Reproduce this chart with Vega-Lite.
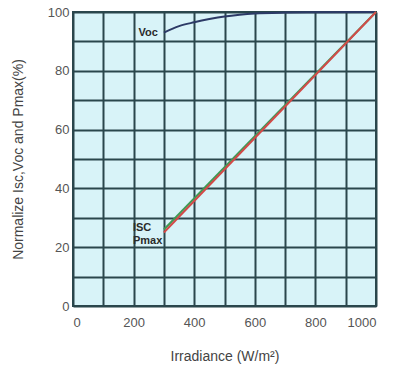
{
  "$schema": "https://vega.github.io/schema/vega-lite/v6.json",
  "width": 303,
  "height": 294,
  "autosize": {"type": "none"},
  "padding": {"left": 73, "top": 12, "right": 27, "bottom": 64},
  "background": "white",
  "config": {
    "view": {"fill": "#d8f3f8", "stroke": "#2a464c", "strokeWidth": 2},
    "axis": {
      "gridColor": "#2a464c", "gridWidth": 2, "gridOpacity": 1,
      "domain": false, "ticks": false,
      "labelFont": "Liberation Sans", "labelColor": "#555", "labelFontSize": 13,
      "titleFont": "Liberation Sans", "titleColor": "#444", "titleFontSize": 14, "titleFontWeight": "normal"
    }
  },
  "datasets": {
    "curves": [
      {"irr": 300, "val": 93.0, "series": "Voc"},
      {"irr": 350, "val": 95.2, "series": "Voc"},
      {"irr": 400, "val": 96.5, "series": "Voc"},
      {"irr": 450, "val": 97.6, "series": "Voc"},
      {"irr": 500, "val": 98.5, "series": "Voc"},
      {"irr": 550, "val": 99.1, "series": "Voc"},
      {"irr": 600, "val": 99.5, "series": "Voc"},
      {"irr": 700, "val": 99.8, "series": "Voc"},
      {"irr": 800, "val": 99.9, "series": "Voc"},
      {"irr": 1000, "val": 100, "series": "Voc"},
      {"irr": 300, "val": 26, "series": "Isc"},
      {"irr": 1000, "val": 100, "series": "Isc"},
      {"irr": 300, "val": 25, "series": "Pmax"},
      {"irr": 1000, "val": 100, "series": "Pmax"}
    ],
    "vocLabel": [
      {"irr": 300, "val": 93.0, "text": "Voc"}
    ],
    "lowLabels": [
      {"irr": 300, "val": 26.5, "text": "ISC"},
      {"irr": 300, "val": 22.0, "text": "Pmax"}
    ]
  },
  "resolve": {"axis": {"x": "independent", "y": "independent"}},
  "layer": [
    {
      "data": {"name": "curves"},
      "mark": {"type": "line", "strokeWidth": 2, "interpolate": "monotone"},
      "encoding": {
        "x": {
          "field": "irr", "type": "quantitative",
          "scale": {"domain": [0, 1000], "nice": false},
          "axis": {
            "values": [0, 200, 400, 600, 800, 1000], "grid": false,
            "format": "d", "labelPadding": 10,
            "title": "Irradiance (W/m²)", "titlePadding": 20
          }
        },
        "y": {
          "field": "val", "type": "quantitative",
          "scale": {"domain": [0, 100], "nice": false},
          "axis": {
            "values": [0, 20, 40, 60, 80, 100], "grid": false,
            "labelPadding": 4,
            "title": "Normalize Isc,Voc and Pmax(%)", "titlePadding": 22
          }
        },
        "color": {
          "field": "series", "type": "nominal",
          "scale": {"domain": ["Voc", "Isc", "Pmax"], "range": ["#2c3a66", "#3d9a55", "#d24a48"]},
          "legend": null
        },
        "order": {"field": "series", "sort": "ascending"}
      }
    },
    {
      "data": {"name": "vocLabel"},
      "mark": {"type": "text", "align": "right", "dx": -6, "font": "Liberation Sans", "fontSize": 11, "fontWeight": "bold", "color": "#2a2a2a"},
      "encoding": {
        "x": {
          "field": "irr", "type": "quantitative",
          "axis": {"orient": "top", "values": [0, 100, 200, 300, 400, 500, 600, 700, 800, 900, 1000], "labels": false, "grid": true, "title": null}
        },
        "y": {
          "field": "val", "type": "quantitative",
          "axis": {"orient": "right", "values": [0, 10, 20, 30, 40, 50, 60, 70, 80, 90, 100], "labels": false, "grid": true, "title": null}
        },
        "text": {"field": "text"}
      }
    },
    {
      "data": {"name": "lowLabels"},
      "mark": {"type": "text", "align": "left", "dx": -31, "font": "Liberation Sans", "fontSize": 11, "fontWeight": "bold", "color": "#2a2a2a"},
      "encoding": {
        "x": {"field": "irr", "type": "quantitative", "axis": null},
        "y": {"field": "val", "type": "quantitative", "axis": null},
        "text": {"field": "text"}
      }
    }
  ]
}
